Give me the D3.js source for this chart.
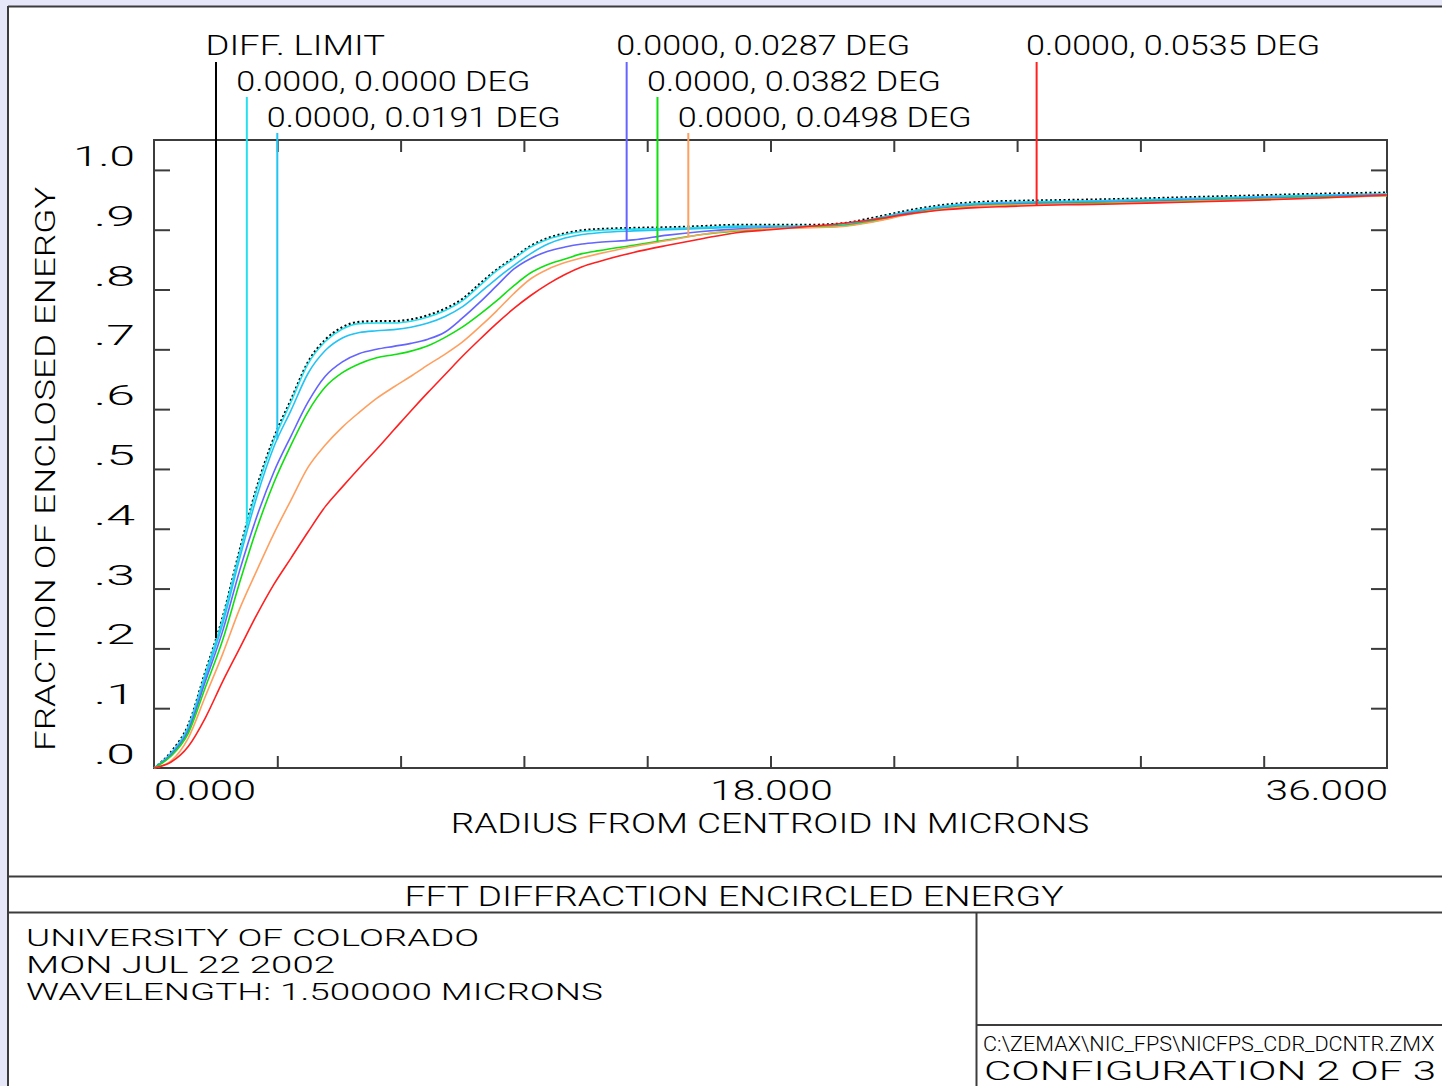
<!DOCTYPE html>
<html><head><meta charset="utf-8">
<script src="https://cdn.jsdelivr.net/npm/d3@7"></script>
<style>
html,body{margin:0;padding:0;background:#e6e8fa;}
svg{display:block;}
text{font-family:Roboto,"Liberation Sans",sans-serif;font-weight:300;fill:#000;}
</style></head><body><svg id="chart" width="1442" height="1086"></svg>
<script>
// ---------- DATA ----------
const radii = [0,0.5,1,1.5,2,2.5,3,3.5,4,4.5,5,5.5,6,6.5,7,7.5,8,8.5,9,9.5,10,10.5,11,11.5,12,12.5,13,14,15,16,17,18,19,20,21,22,23,24,25,26,27,28,30,32,34,36];
const diffLimit = [0,0.027,0.072,0.161,0.251,0.364,0.469,0.552,0.616,0.679,0.716,0.737,0.746,0.747,0.747,0.750,0.757,0.768,0.784,0.809,0.833,0.853,0.873,0.886,0.894,0.899,0.901,0.903,0.904,0.906,0.908,0.908,0.908,0.910,0.920,0.932,0.941,0.946,0.948,0.949,0.950,0.951,0.954,0.957,0.960,0.962];
const field0000 = [0,0.025,0.069,0.158,0.248,0.360,0.465,0.548,0.612,0.676,0.713,0.734,0.743,0.744,0.744,0.747,0.754,0.765,0.781,0.806,0.831,0.851,0.871,0.884,0.892,0.897,0.899,0.901,0.902,0.904,0.906,0.906,0.906,0.908,0.918,0.930,0.939,0.944,0.946,0.947,0.948,0.949,0.952,0.955,0.958,0.960];
const field0191 = [0,0.024,0.066,0.152,0.240,0.350,0.453,0.537,0.598,0.660,0.698,0.719,0.728,0.731,0.733,0.737,0.744,0.755,0.771,0.794,0.818,0.840,0.860,0.876,0.886,0.892,0.895,0.898,0.900,0.902,0.904,0.905,0.905,0.907,0.917,0.929,0.938,0.943,0.945,0.946,0.947,0.948,0.951,0.954,0.957,0.959];
const field0287 = [0,0.022,0.062,0.145,0.228,0.330,0.420,0.495,0.555,0.612,0.655,0.679,0.693,0.700,0.705,0.710,0.717,0.729,0.752,0.778,0.806,0.834,0.852,0.864,0.871,0.876,0.879,0.883,0.891,0.897,0.901,0.903,0.904,0.906,0.915,0.927,0.936,0.941,0.943,0.944,0.945,0.946,0.949,0.952,0.955,0.958];
const field0382 = [0,0.020,0.058,0.135,0.213,0.310,0.400,0.477,0.540,0.596,0.637,0.661,0.676,0.686,0.691,0.697,0.706,0.720,0.737,0.758,0.781,0.806,0.828,0.842,0.851,0.860,0.865,0.874,0.883,0.892,0.898,0.902,0.904,0.906,0.914,0.926,0.935,0.940,0.942,0.943,0.944,0.945,0.948,0.951,0.954,0.957];
const field0498 = [0,0.012,0.050,0.120,0.190,0.266,0.330,0.392,0.448,0.503,0.540,0.570,0.595,0.618,0.637,0.655,0.674,0.692,0.712,0.737,0.764,0.793,0.818,0.834,0.845,0.853,0.860,0.872,0.882,0.892,0.899,0.902,0.903,0.905,0.913,0.925,0.934,0.939,0.941,0.942,0.943,0.944,0.947,0.950,0.953,0.957];
const field0535 = [0,0.010,0.036,0.084,0.144,0.200,0.256,0.307,0.351,0.395,0.437,0.470,0.502,0.533,0.565,0.597,0.628,0.658,0.688,0.716,0.743,0.768,0.790,0.809,0.825,0.838,0.847,0.862,0.874,0.885,0.895,0.900,0.905,0.910,0.917,0.926,0.933,0.937,0.939,0.941,0.942,0.943,0.946,0.949,0.953,0.958];

const seriesLabels = ["DIFF. LIMIT","0.0000, 0.0000 DEG","0.0000, 0.0191 DEG","0.0000, 0.0287 DEG","0.0000, 0.0382 DEG","0.0000, 0.0498 DEG","0.0000, 0.0535 DEG"];
const seriesValues = [diffLimit, field0000, field0191, field0287, field0382, field0498, field0535];
const labelMarkerRadius = [1.81, 2.71, 3.6, 13.8, 14.7, 15.6, 25.77];
const xTickValues = [0,3.6,7.2,10.8,14.4,18,21.6,25.2,28.8,32.4,36];
const xTickLabels = [["0.000",0],["18.000",18],["36.000",36]];
const yTickValues = [1.0,0.9,0.8,0.7,0.6,0.5,0.4,0.3,0.2,0.1,0.0];
const yTickLabels = ["1.0",".9",".8",".7",".6",".5",".4",".3",".2",".1",".0"];

// ---------- STYLE ----------
const colors = ["#000000","#22e0ee","#22c4f4","#6464ff","#10e010","#ffa060","#ff2020"];
const frameColor = "#3c3c3c";

const svg = d3.select("#chart");
const W = 1442, H = 1086;

// panel
svg.append("rect").attr("x",0).attr("y",0).attr("width",W).attr("height",H).attr("fill","#e6e8fa");
svg.append("rect").attr("x",9).attr("y",7).attr("width",W).attr("height",H).attr("fill","#fff");
svg.append("line").attr("x1",8).attr("x2",8).attr("y1",6).attr("y2",H).attr("stroke",frameColor).attr("stroke-width",2);
svg.append("line").attr("x1",8).attr("x2",W).attr("y1",6.5).attr("y2",6.5).attr("stroke",frameColor).attr("stroke-width",2);

const x = d3.scaleLinear().domain([0,36]).range([154,1387]);
const y = d3.scaleLinear().domain([0,1.05]).range([768,140]);

function txt(s, px, py, pitch, size, anchor, g){
  return (g||svg).append("text").text(s).attr("x",px).attr("y",py)
    .attr("font-size",size).attr("text-anchor",anchor||"start")
    .attr("textLength", s.length*pitch).attr("lengthAdjust","spacingAndGlyphs");
}

// plot frame
svg.append("rect").attr("x",x(0)).attr("y",y(1.05)).attr("width",x(36)-x(0)).attr("height",y(0)-y(1.05))
  .attr("fill","none").attr("stroke",frameColor).attr("stroke-width",2);

// axes ticks via d3 axes (inner ticks)
const axB = d3.axisTop(x).tickValues(xTickValues.slice(1,-1)).tickSize(12).tickFormat("");
const axT = d3.axisBottom(x).tickValues(xTickValues.slice(1,-1)).tickSize(12).tickFormat("");
const axL = d3.axisRight(y).tickValues(yTickValues.slice(0,-1)).tickSize(16).tickFormat("");
const axR = d3.axisLeft(y).tickValues(yTickValues.slice(0,-1)).tickSize(16).tickFormat("");
[[axB,`translate(0,${y(0)})`],[axT,`translate(0,${y(1.05)})`],[axL,`translate(${x(0)},0)`],[axR,`translate(${x(36)},0)`]].forEach(([ax,tr])=>{
  const g = svg.append("g").attr("transform",tr).call(ax);
  g.select(".domain").remove();
  g.selectAll("line").attr("stroke",frameColor).attr("stroke-width",2);
});

// curves
const line = d3.line().x((d,i)=>x(radii[i])).y(d=>y(d)).curve(d3.curveMonotoneX);
const cg = svg.append("g");
seriesValues.forEach((vals,i)=>{
  const p = cg.append("path").datum(vals).attr("d",line).attr("fill","none")
    .attr("stroke",colors[i]).attr("stroke-width", i===0?2.2:1.6);
  if(i===0) p.attr("stroke-dasharray","2,2.5");
});

// legend labels + marker lines
function interp(vals, r){
  for(let k=1;k<radii.length;k++){
    if(r<=radii[k]){ const t=(r-radii[k-1])/(radii[k]-radii[k-1]); return vals[k-1]+t*(vals[k]-vals[k-1]); }
  }
  return vals[vals.length-1];
}
const rowBase = [55,91,127];
const rowTop = [62,97,133];
seriesLabels.forEach((lab,i)=>{
  const row = i<6 ? i%3 : 0;
  const mx = x(labelMarkerRadius[i]);
  svg.append("line").attr("x1",mx).attr("x2",mx).attr("y1",rowTop[row]).attr("y2",y(interp(seriesValues[i],labelMarkerRadius[i])))
    .attr("stroke",colors[i]).attr("stroke-width",2);
  txt(lab, mx-10.5, rowBase[row], 16.33, 28);
});

// tick labels
yTickValues.forEach((v,i)=>{ txt(yTickLabels[i], 135, y(v)-4, 20.6, 27, "end"); });
txt(xTickLabels[0][0], x(xTickLabels[0][1])+0, 800, 20.4, 27, "start");
txt(xTickLabels[1][0], x(xTickLabels[1][1])+1, 800, 20.4, 27, "middle");
txt(xTickLabels[2][0], x(xTickLabels[2][1])+1, 800, 20.4, 27, "end");

// axis titles
txt("RADIUS FROM CENTROID IN MICRONS", 770, 833, 20.6, 27, "middle");
const yt = svg.append("g").attr("transform","translate(55,751) rotate(-90)");
txt("FRACTION OF ENCLOSED ENERGY", 0, 0, 20.9, 27, "start", yt);

// bottom info blocks
svg.append("line").attr("x1",9).attr("x2",W).attr("y1",876.5).attr("y2",876.5).attr("stroke",frameColor).attr("stroke-width",2);
svg.append("line").attr("x1",9).attr("x2",W).attr("y1",912.5).attr("y2",912.5).attr("stroke",frameColor).attr("stroke-width",2);
svg.append("line").attr("x1",976.5).attr("x2",976.5).attr("y1",913).attr("y2",H).attr("stroke",frameColor).attr("stroke-width",2);
svg.append("line").attr("x1",976).attr("x2",W).attr("y1",1025).attr("y2",1025).attr("stroke",frameColor).attr("stroke-width",2);

txt("FFT DIFFRACTION ENCIRCLED ENERGY", 734, 906, 20.6, 28, "middle");
txt("UNIVERSITY OF COLORADO", 26, 946, 20.6, 24);
txt("MON JUL 22 2002", 26, 973, 20.6, 24);
txt("WAVELENGTH: 1.500000 MICRONS", 26, 1000, 20.6, 24);
txt("C:\\ZEMAX\\NIC_FPS\\NICFPS_CDR_DCNTR.ZMX", 983, 1051, 12.2, 21);
txt("CONFIGURATION 2 OF 3", 984, 1080, 22.6, 25);
</script></body></html>
